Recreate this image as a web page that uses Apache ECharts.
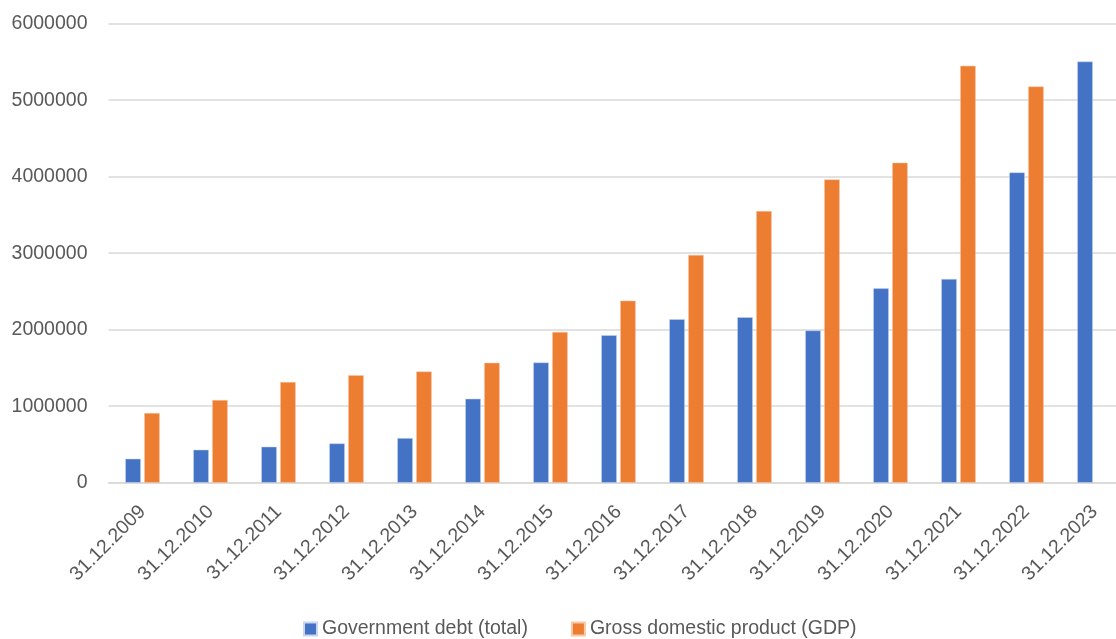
<!DOCTYPE html>
<html>
<head>
<meta charset="utf-8">
<script src="https://cdn.jsdelivr.net/npm/echarts@6/dist/echarts.min.js"></script>
<style>
html,body{margin:0;padding:0;background:#fff;}
#chart{width:1116px;height:639px;}
</style>
</head>
<body>
<div id="chart"></div>
<script>
const categories = ['31.12.2009','31.12.2010','31.12.2011','31.12.2012','31.12.2013','31.12.2014','31.12.2015','31.12.2016','31.12.2017','31.12.2018','31.12.2019','31.12.2020','31.12.2021','31.12.2022','31.12.2023'];
const debtName = 'Government debt (total)';
const gdpName = 'Gross domestic product (GDP)';
const debt = [313000, 431000, 470000, 513000, 583000, 1097000, 1571000, 1928000, 2137000, 2163000, 1990000, 2541000, 2663000, 4056000, 5505000];
const gdp = [910000, 1080000, 1315000, 1406000, 1453000, 1567000, 1971000, 2380000, 2977000, 3551000, 3965000, 4183000, 5449000, 5179000, null];
const yTicks = {min: 0, max: 6000000, interval: 1000000};

const chart = echarts.init(document.getElementById('chart'));
const font = "'Liberation Sans', Arial, sans-serif";
const fs = 19.5;
chart.setOption({
  animation: false,
  backgroundColor: '#ffffff',
  textStyle: {fontFamily: font},
  grid: {left: 108.5, top: 23.7, width: 1020, height: 459, containLabel: false, outerBoundsMode: 'none'},
  legend: {
    top: 619, left: 303, padding: 0,
    itemWidth: 13, itemHeight: 13, itemGap: 43,
    icon: 'rect',
    textStyle: {fontSize: fs, color: '#595959', fontFamily: font},
    data: [debtName, gdpName]
  },
  xAxis: {
    type: 'category',
    data: categories,
    axisLine: {lineStyle: {color: '#d9d9d9', width: 1.5}},
    axisTick: {show: false},
    axisLabel: {rotate: 45, fontSize: fs, color: '#595959', margin: 26, interval: 0, fontFamily: font}
  },
  yAxis: {
    type: 'value',
    min: yTicks.min, max: yTicks.max, interval: yTicks.interval,
    axisLine: {show: false},
    axisTick: {show: false},
    splitLine: {lineStyle: {color: '#d9d9d9', width: 1.5}},
    axisLabel: {fontSize: fs, color: '#595959', margin: 21, fontFamily: font, formatter: v => String(v)}
  },
  series: [
    {name: debtName, type: 'bar', data: debt, barWidth: 15.5, barGap: '22%',
     itemStyle: {color: '#4472c4', borderColor: '#c9d6f0', borderWidth: 0.5}},
    {name: gdpName, type: 'bar', data: gdp, barWidth: 15.5,
     itemStyle: {color: '#ed7d31', borderColor: '#f8c9a8', borderWidth: 0.5}}
  ]
});
</script>
</body>
</html>
